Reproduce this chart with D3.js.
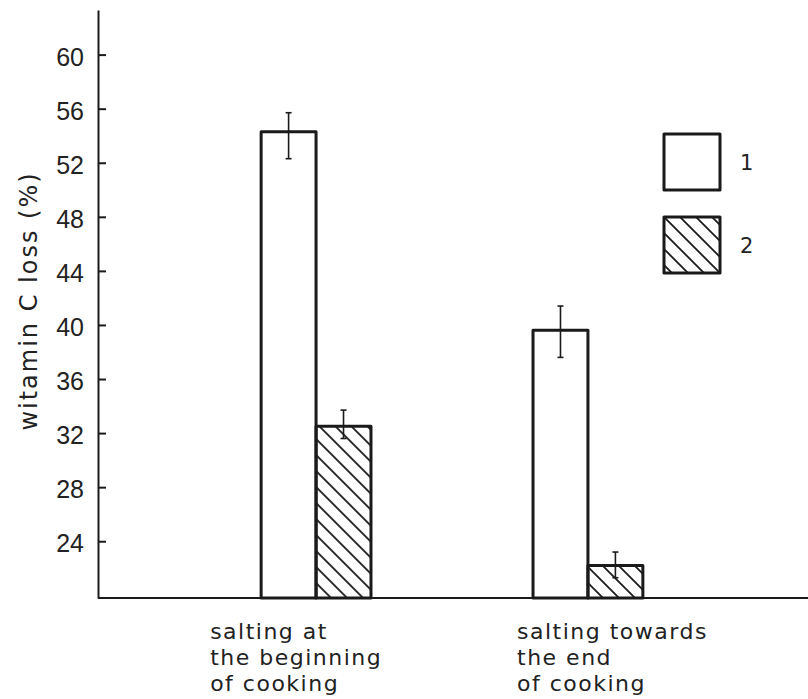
<!DOCTYPE html>
<html>
<head>
<meta charset="utf-8">
<script src="https://cdn.jsdelivr.net/npm/d3@7/dist/d3.min.js"></script>
<style>
	html, body { margin: 0; padding: 0; background: #fff; }
	svg { display: block; font-family: "DejaVu Sans", sans-serif; }
	.axis text { font-size: 25px; fill: #222; }
	.axis path, .axis line { stroke: #1a1a1a; stroke-width: 2; }
</style>
</head>
<body>
<div id="chart"></div>
<script>
// values
var categories = [
	["salting at", "the beginning", "of cooking"],
	["salting towards", "the end", "of cooking"]
];
var series = ["1", "2"];
var loss1 = [54.3, 39.6];
var loss2 = [32.5, 22.2];
var err1 = [[52.3, 55.7], [37.6, 41.4]];
var err2 = [[31.6, 33.7], [21.3, 23.2]];
var yTicks = [24, 28, 32, 36, 40, 44, 48, 52, 56, 60];
var yTitle = "witamin C loss (%)";

var width = 808, height = 699;
var labelDx = [-51, -16];

var svg = d3.select("#chart").append("svg")
	.attr("width", width)
	.attr("height", height);

var defs = svg.append("defs");
defs.append("pattern")
	.attr("id", "hatch")
	.attr("patternUnits", "userSpaceOnUse")
	.attr("width", 16)
	.attr("height", 16)
	.append("path")
		.attr("d", "M0,0L16,16M-4,12L4,20M12,-4L20,4")
		.attr("stroke", "#1a1a1a")
		.attr("stroke-width", 1.8);

var y = d3.scaleLinear()
	.domain([19.8, 63.3])
	.range([598, 10]);

var x = d3.scaleBand()
	.domain(d3.range(categories.length))
	.range([98, 806])
	.paddingInner(0.596)
	.paddingOuter(0.6);

var xs = d3.scaleBand()
	.domain(series)
	.range([0, x.bandwidth()]);

var rows = categories.map(function(c, i) {
	return [
		{ s: "1", cat: i, v: loss1[i], e: err1[i] },
		{ s: "2", cat: i, v: loss2[i], e: err2[i] }
	];
});

// y axis
var yAxis = d3.axisLeft(y)
	.tickValues(yTicks)
	.tickSizeInner(-8)
	.tickSizeOuter(0)
	.tickPadding(14);

var yAxisG = svg.append("g")
	.attr("class", "axis")
	.attr("transform", "translate(98,0)")
	.call(yAxis);
yAxisG.selectAll("text").attr("dy", "0.42em");

// baseline
svg.append("line")
	.attr("x1", 98).attr("x2", width)
	.attr("y1", y(19.8)).attr("y2", y(19.8))
	.attr("stroke", "#1a1a1a")
	.attr("stroke-width", 2);

// bars
var groups = svg.selectAll("g.group")
	.data(rows)
	.enter()
	.append("g")
		.attr("class", "group")
		.attr("transform", function(d, i) { return "translate(" + x(i) + ",0)"; });

groups.selectAll("rect")
	.data(function(d) { return d; })
	.enter()
	.append("rect")
		.attr("x", function(d) { return xs(d.s); })
		.attr("width", xs.bandwidth())
		.attr("y", function(d) { return y(d.v); })
		.attr("height", function(d) { return y(19.8) - y(d.v); })
		.attr("fill", function(d) { return d.s == "2" ? "url(#hatch)" : "#fff"; })
		.attr("stroke", "#1a1a1a")
		.attr("stroke-width", 3)
		.attr("stroke-linejoin", "round");

// error bars
var eb = groups.selectAll("g.err")
	.data(function(d) { return d; })
	.enter()
	.append("g")
		.attr("class", "err")
		.attr("stroke", "#1a1a1a")
		.attr("stroke-width", 1.6);

eb.append("line")
	.attr("x1", function(d) { return xs(d.s) + xs.bandwidth() / 2; })
	.attr("x2", function(d) { return xs(d.s) + xs.bandwidth() / 2; })
	.attr("y1", function(d) { return y(d.e[0]); })
	.attr("y2", function(d) { return y(d.e[1]); });

eb.selectAll("line.cap")
	.data(function(d) { return [d.e[0], d.e[1]].map(function(v) { return { s: d.s, v: v }; }); })
	.enter()
	.append("line")
		.attr("class", "cap")
		.attr("x1", function(d) { return xs(d.s) + xs.bandwidth() / 2 - 3; })
		.attr("x2", function(d) { return xs(d.s) + xs.bandwidth() / 2 + 3; })
		.attr("y1", function(d) { return y(d.v); })
		.attr("y2", function(d) { return y(d.v); });

// category labels
svg.selectAll("text.cat")
	.data(categories)
	.enter()
	.append("text")
		.attr("class", "cat")
		.attr("x", function(d, i) { return x(i) + labelDx[i]; })
		.attr("y", 639)
		.style("font-size", "22px")
		.style("letter-spacing", "1.5px")
		.attr("fill", "#222")
		.selectAll("tspan")
		.data(function(d) { return d; })
		.enter()
		.append("tspan")
			.attr("x", function() { return d3.select(this.parentNode).attr("x"); })
			.attr("dy", function(d, i) { return i == 0 ? 0 : 26; })
			.text(function(d) { return d; });

// y title
svg.append("text")
	.attr("transform", "translate(37,301) rotate(-90)")
	.attr("text-anchor", "middle")
	.style("font-size", "24px")
	.style("letter-spacing", "2px")
	.attr("fill", "#222")
	.text(yTitle);

// legend
var legend = svg.selectAll("g.legend")
	.data(series)
	.enter()
	.append("g")
		.attr("class", "legend")
		.attr("transform", function(d, i) { return "translate(664," + (134 + i * 83) + ")"; });

legend.append("rect")
	.attr("width", 56)
	.attr("height", 56)
	.attr("fill", function(d) { return d == "2" ? "url(#hatch)" : "#fff"; })
	.attr("stroke", "#1a1a1a")
	.attr("stroke-width", 3)
	.attr("stroke-linejoin", "round");

legend.append("text")
	.attr("x", 76)
	.attr("y", 28)
	.attr("dy", "0.36em")
	.style("font-size", "21px")
	.attr("fill", "#222")
	.text(function(d) { return d; });
</script>
</body>
</html>
